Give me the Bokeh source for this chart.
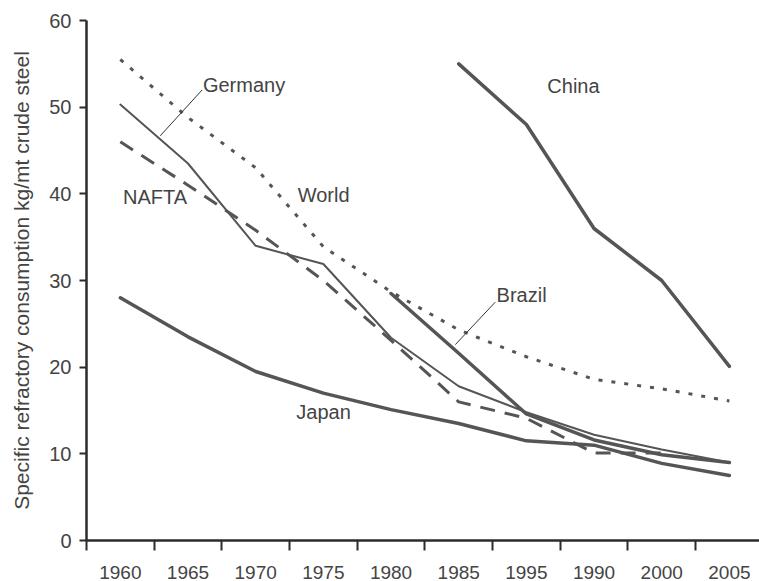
import numpy as np
from bokeh.plotting import figure
from bokeh.models import FixedTicker, Range1d
from bokeh.core.properties import value
from bokeh.embed import file_html
from bokeh.resources import INLINE

nan = np.nan

# ---- data ----
years = ["1960", "1965", "1970", "1975", "1980", "1985", "1995", "1990", "2000", "2005"]
xs = list(range(len(years)))

world   = [55.5, 48.8, 43.0, 33.9, 28.7, 24.3, 21.2, 18.6, 17.5, 16.1]
germany = [50.3, 43.5, 34.0, 31.9, 23.4, 17.8, 14.8, 12.2, 10.5, 9.0]
nafta   = [46.0, 41.0, 35.8, 30.0, 23.1, 16.0, 14.1, 10.1, 10.1, nan]
japan   = [28.0, 23.5, 19.5, 17.0, 15.1, 13.5, 11.5, 11.0, 8.9, 7.5]
brazil  = [nan, nan, nan, nan, 28.5, 21.6, 14.6, 11.6, 9.9, 9.0]
china   = [nan, nan, nan, nan, nan, 55.0, 48.0, 36.0, 30.0, 20.1]

y_ticks = [0, 10, 20, 30, 40, 50, 60]

label_text = ["Germany", "China", "World", "NAFTA", "Brazil", "Japan"]
label_x = [1.22, 6.31, 2.62, 0.04, 5.56, 2.60]
label_y = [52.6, 52.4, 39.9, 39.6, 28.3, 14.8]

# leader lines (Germany, Brazil)
lead_x0 = [0.59, 4.95]
lead_y0 = [46.7, 22.6]
lead_x1 = [1.21, 5.54]
lead_y1 = [52.0, 27.5]

FONT = "Liberation Sans"
TXT = "#444444"
LINE = "#555555"
AX = "#2b2b2b"

p = figure(width=759, height=581,
           x_range=Range1d(-0.5, 9.445), y_range=Range1d(0, 60),
           output_backend="svg", toolbar_location=None,
           min_border_left=86, min_border_right=0,
           min_border_top=20, min_border_bottom=41)
p.outline_line_color = None
p.grid.visible = False
p.background_fill_color = "white"
p.border_fill_color = "white"

# x axis
xa = p.xaxis[0]
xa.ticker = FixedTicker(ticks=xs, minor_ticks=[i - 0.5 for i in xs])
xa.major_label_overrides = {i: y for i, y in zip(xs, years)}
xa.major_tick_out = 0
xa.major_tick_in = 0
xa.minor_tick_out = 10
xa.minor_tick_in = 0
xa.minor_tick_line_color = AX
xa.minor_tick_line_width = 2
xa.axis_line_color = AX
xa.axis_line_width = 2.5
xa.major_label_standoff = 15
xa.major_label_text_font = FONT
xa.major_label_text_font_size = "19px"
xa.major_label_text_color = TXT

# y axis
ya = p.yaxis[0]
ya.ticker = FixedTicker(ticks=y_ticks)
ya.major_tick_out = 7
ya.major_tick_in = 0
ya.minor_tick_out = 0
ya.minor_tick_in = 0
ya.major_tick_line_color = AX
ya.major_tick_line_width = 2
ya.axis_line_color = AX
ya.axis_line_width = 2.5
ya.major_label_standoff = 8
ya.major_label_text_font = FONT
ya.major_label_text_font_size = "20px"
ya.major_label_text_color = TXT
ya.axis_label = "Specific refractory consumption kg/mt crude steel"
ya.axis_label_text_font = FONT
ya.axis_label_text_font_size = "21px"
ya.axis_label_text_font_style = "normal"
ya.axis_label_text_color = TXT
ya.axis_label_standoff = 13

# series
p.line(xs, japan, line_color=LINE, line_width=3.5, line_join="round", line_cap="round")
p.line(xs, nafta, line_color=LINE, line_width=3, line_dash="15 10", line_join="round")
p.line(xs, germany, line_color=LINE, line_width=2, line_join="round", line_cap="round")
p.line(xs, world, line_color=LINE, line_width=3, line_dash="4 9")
p.line(xs, brazil, line_color=LINE, line_width=3.5, line_join="round", line_cap="round")
p.line(xs, china, line_color=LINE, line_width=3.5, line_join="round", line_cap="round")

p.segment(x0=lead_x0, y0=lead_y0, x1=lead_x1, y1=lead_y1, line_color="#333333", line_width=1)

p.text(x=label_x, y=label_y, text=label_text, text_font=value(FONT),
       text_font_size="20px", text_color=TXT, text_align="left", text_baseline="alphabetic")

open("out.html", "w").write(file_html(p, INLINE))
